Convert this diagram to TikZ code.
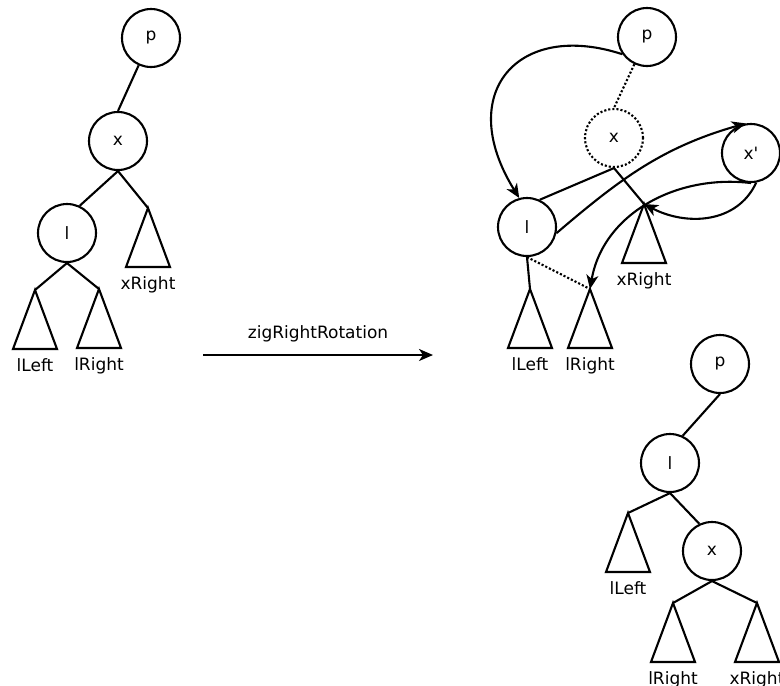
\documentclass[tikz,border=0pt]{standalone}
\usepackage{fontspec}
\setmainfont{DejaVu Sans}
\usetikzlibrary{calc,arrows.meta}

\begin{document}
\begin{tikzpicture}
[x=1pt,y=-1pt,>={Stealth[length=14pt,width=12pt,inset=4pt]},line width=2.1pt,font=\fontsize{17}{20}\selectfont,
vertex/.style={draw,circle,minimum size=58pt,inner sep=0pt},
ghost/.style={vertex,dotted},
label distance=66pt,every label/.style={inner sep=2pt},]

\useasboundingbox (0,0) rectangle (780,686);

%Tree before rotation
\node (p1) at (151,38)[vertex] {p};
\node (x1) at (118,141)[vertex] {x};
\node (l1) at (67,233)[vertex] {l};
\coordinate[label=below:xRight] (xr1) at (148,208);
\coordinate[label=below:lLeft] (ll1) at (35,290);
\coordinate[label=below:lRight] (lr1) at (99,289);

\draw (p1) -- (x1.north);
\draw (x1.south) -- (l1.65);
\draw (x1.south) -- (xr1);
\draw (l1.south) -- (ll1);
\draw (l1.south) -- (lr1);
\draw (xr1) -- ++(-22,59) -- ++(44,0) -- cycle;
\draw (ll1) -- ++(-22,59) -- ++(44,0) -- cycle;
\draw (lr1) -- ++(-22,59) -- ++(44,0) -- cycle;

%Rotation arrow
\coordinate (rotStart) at (203,355);
\coordinate (rotEnd) at (433,355);
\draw[->] (rotStart) -- node[above=9pt] {zigRightRotation} (rotEnd);

%Tree during rotation
\node (p2) at (647,37)[vertex] {p};
\node (x2) at (614,138)[ghost] {x};
\node (xp2) at (751,153)[vertex] {x\textquotesingle};
\node (l2) at (527,227)[vertex] {l};
\coordinate[label=below:xRight] (xr2) at (644,204);
\coordinate[label=below:lLeft] (ll2) at (530,289);
\coordinate[label=below:lRight] (lr2) at (590,289);

\draw[dotted] (p2) -- (x2.north);
\draw (x2.south) -- (l2.65);
\draw (x2.south) -- (xr2);
\draw (l2.south) -- (ll2);
\draw[dotted] (l2.south) -- (lr2);
\draw (xr2) -- ++(-22,59) -- ++(44,0) -- cycle;
\draw (ll2) -- ++(-22,59) -- ++(44,0) -- cycle;
\draw (lr2) -- ++(-22,59) -- ++(44,0) -- cycle;

%Moving the links
\draw[->] (p2.215) .. controls (518,20) and (454,93) .. (l2.105);
\draw[->] (l2.-12) .. controls (621,178) and (663,147) .. (xp2.100);
\draw[->] (xp2.south) .. controls (676,174) and (603,214) .. (lr2);
\draw[->] (xp2.-80) .. controls (737,224) and (686,226) .. (xr2);

%Tree after rotation
\node (p3) at (720,364)[vertex] {p};
\node (l3) at (670,463)[vertex] {l};
\node (x3) at (712,551)[vertex] {x};
\coordinate[label=below:lLeft] (ll3) at (628,513);
\coordinate[label=below:lRight] (lr3) at (673,603);
\coordinate[label=below:xRight] (xr3) at (757,603);

\draw (p3.south) -- (l3.65);
\draw (l3.south) -- (ll3);
\draw (l3.south) -- (x3.115);
\draw (x3.south) -- (lr3);
\draw (x3.south) -- (xr3);
\draw (ll3) -- ++(-22,59) -- ++(44,0) -- cycle;
\draw (lr3) -- ++(-22,59) -- ++(44,0) -- cycle;
\draw (xr3) -- ++(-22,59) -- ++(44,0) -- cycle;

\end{tikzpicture}
\end{document}
